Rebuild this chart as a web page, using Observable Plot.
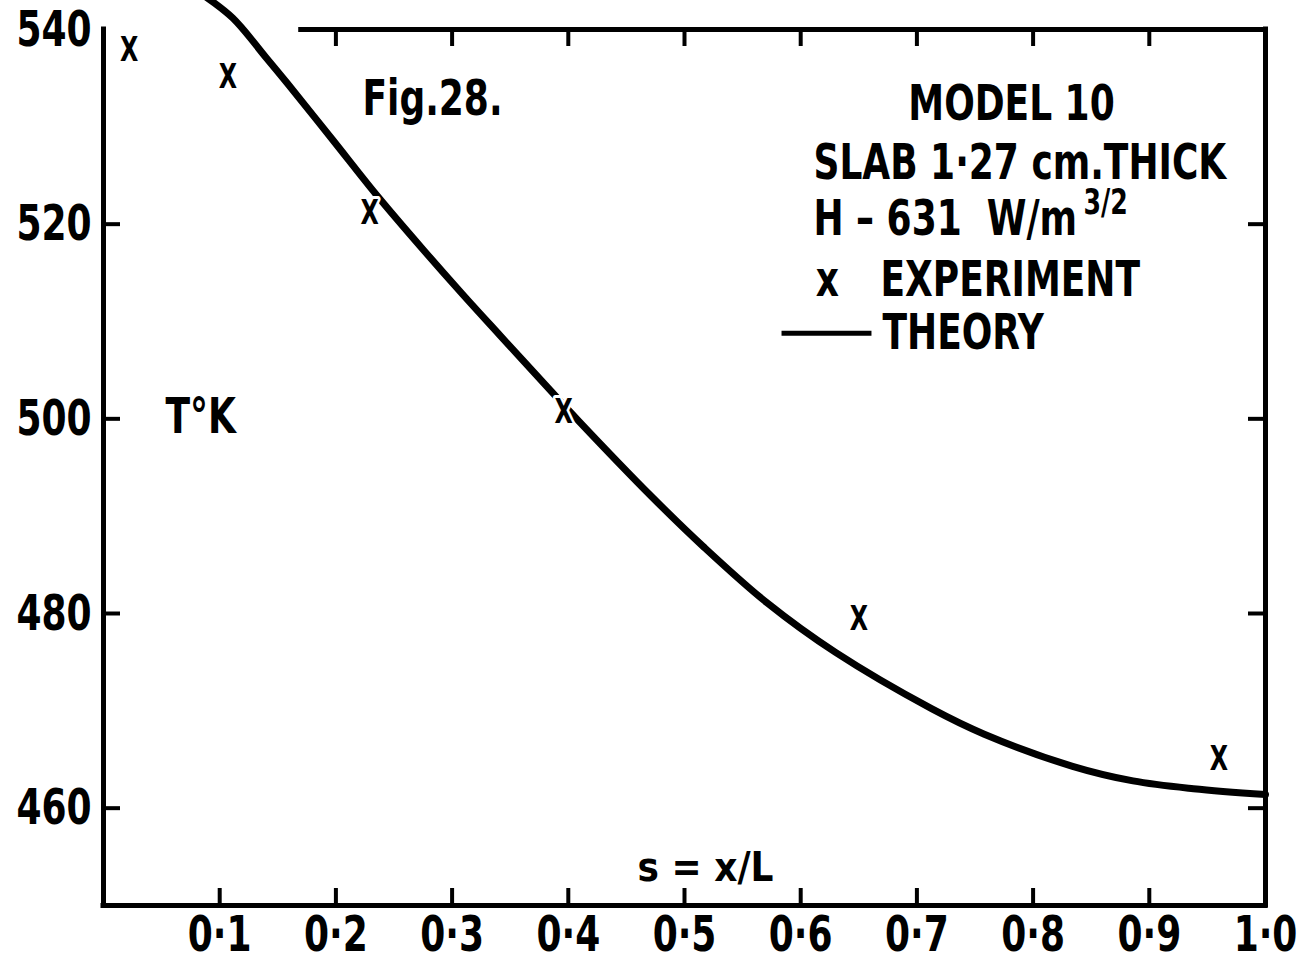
<!DOCTYPE html>
<html>
<head>
<meta charset="utf-8">
<script src="https://cdn.jsdelivr.net/npm/d3@7"></script>
<script src="https://cdn.jsdelivr.net/npm/@observablehq/plot@0.6"></script>
<style>
  html, body { margin: 0; padding: 0; background: #fff; }
  #chart svg { display: block; }
</style>
</head>
<body>
<div id="chart"></div>
<script>
// Theory curve (s = x/L, T in °K)
const theoryS = [0.085, 0.111, 0.140, 0.158, 0.197, 0.235, 0.275, 0.309, 0.341, 0.384, 0.408, 0.471, 0.516, 0.571, 0.630, 0.713, 0.758, 0.834, 0.886, 0.938, 1.0];
const theoryT = [543.6, 541.2, 537.1, 534.5, 528.7, 523.0, 517.4, 512.8, 508.6, 503.0, 499.9, 492.1, 486.9, 481.1, 476.0, 470.2, 467.6, 464.3, 462.8, 462.0, 461.4];

// Experimental points
const expS = [0.022, 0.107, 0.229, 0.396, 0.650, 0.960];
const expT = [537.9, 535.1, 521.1, 500.7, 479.4, 465.0];

// Ticks
const xTicks = [0.1, 0.2, 0.3, 0.4, 0.5, 0.6, 0.7, 0.8, 0.9, 1.0];
const xTickLabels = ["0·1", "0·2", "0·3", "0·4", "0·5", "0·6", "0·7", "0·8", "0·9", "1·0"];
const xTopTicks = [0.2, 0.3, 0.4, 0.5, 0.6, 0.7, 0.8, 0.9];
const yTicks = [460, 480, 500, 520, 540];
const yTickLabels = ["460", "480", "500", "520", "540"];
const yTickMarks = [460, 480, 500, 520];

const theory = theoryS.map((s, i) => ({s, T: theoryT[i]}));
const experiment = expS.map((s, i) => ({s, T: expT[i]}));

const FONT = "'Liberation Sans Narrow', 'DejaVu Sans Condensed', 'Liberation Sans', sans-serif";
const W = 1297, H = 959;
const mL = 103, mR = 32, mT = 29, mB = 54;
const frameW = W - mL - mR, frameH = H - mT - mB;
const tickLen = 17;

const txt = (label, x, y, opts = {}) =>
  Plot.text([label], {x: () => x, y: () => y, text: d => d, fontSize: 50, fontWeight: "bold", fill: "black", lineAnchor: "middle", ...opts});

const chart = Plot.plot({
  width: W,
  height: H,
  marginLeft: mL,
  marginRight: mR,
  marginTop: mT,
  marginBottom: mB,
  style: {fontFamily: FONT, fontWeight: "bold", background: "white", color: "black", overflow: "hidden"},
  x: {domain: [0, 1]},
  y: {domain: [450, 540]},
  marks: [
    // frame lines
    Plot.ruleX([0], {stroke: "black", strokeWidth: 5, strokeLinecap: "square"}),
    Plot.ruleX([1], {stroke: "black", strokeWidth: 5, strokeLinecap: "square"}),
    Plot.ruleY([450], {stroke: "black", strokeWidth: 5, strokeLinecap: "square"}),
    Plot.ruleY([540], {x1: 0.168, x2: 1, stroke: "black", strokeWidth: 5}),
    // inward ticks
    Plot.ruleX(xTicks.slice(0, 9), {x: d => d, stroke: "black", strokeWidth: 4, insetTop: frameH - tickLen}),
    Plot.ruleX(xTopTicks, {x: d => d, stroke: "black", strokeWidth: 4, insetBottom: frameH - tickLen}),
    Plot.ruleY(yTickMarks, {y: d => d, stroke: "black", strokeWidth: 4, insetRight: frameW - tickLen}),
    Plot.ruleY(yTickMarks, {y: d => d, stroke: "black", strokeWidth: 4, insetLeft: frameW - tickLen}),
    // tick labels
    Plot.axisX({anchor: "bottom", ticks: xTicks, tickSize: 0, tickPadding: 10, label: null,
      tickFormat: d => xTickLabels[xTicks.indexOf(d)], fontSize: 50, fontWeight: "bold"}),
    Plot.axisY({anchor: "left", ticks: yTicks, tickSize: 0, tickPadding: 12, label: null,
      tickFormat: d => yTickLabels[yTicks.indexOf(d)], fontSize: 50, fontWeight: "bold"}),
    // theory curve
    Plot.line(theory, {x: "s", y: "T", stroke: "black", strokeWidth: 7, curve: "catmull-rom"}),
    // experiment points
    Plot.text(experiment, {x: "s", y: "T", text: () => "X", fontSize: 33, fontWeight: "bold",
      fill: "black", stroke: "white", strokeWidth: 6, paintOrder: "stroke", lineAnchor: "middle"}),
    // annotations
    txt("Fig.28.", 0.2229, 532.9, {textAnchor: "start"}),
    txt("MODEL 10", 0.7814, 532.3, {textAnchor: "middle"}),
    txt("SLAB 1·27 cm.THICK", 0.611, 526.3, {textAnchor: "start"}),
    txt("H \u2013 631\u00A0\u00A0W/m", 0.611, 520.5, {textAnchor: "start"}),
    txt("3/2", 0.8434, 522.2, {textAnchor: "start", fontSize: 35}),
    txt("x", 0.623, 514.3, {textAnchor: "middle"}),
    txt("EXPERIMENT", 0.6687, 514.3, {textAnchor: "start"}),
    Plot.link([0], {x1: () => 0.5835, x2: () => 0.6609, y1: () => 508.8, y2: () => 508.8, stroke: "black", strokeWidth: 5}),
    txt("THEORY", 0.6704, 508.8, {textAnchor: "start"}),
    txt("T°K", 0.0534, 500.2, {textAnchor: "start"}),
    txt("s = x/L", 0.4596, 453.8, {textAnchor: "start", fontSize: 40})
  ]
});

// The original lettering is narrow: compress glyphs horizontally about each text's anchor.
chart.querySelectorAll("text").forEach(t => {
  if (t.textContent === "s = x/L") return;
  const tr = t.getAttribute("transform") || "";
  t.setAttribute("transform", (tr + " scale(0.8,1)").trim());
});

document.getElementById("chart").appendChild(chart);
</script>
</body>
</html>
